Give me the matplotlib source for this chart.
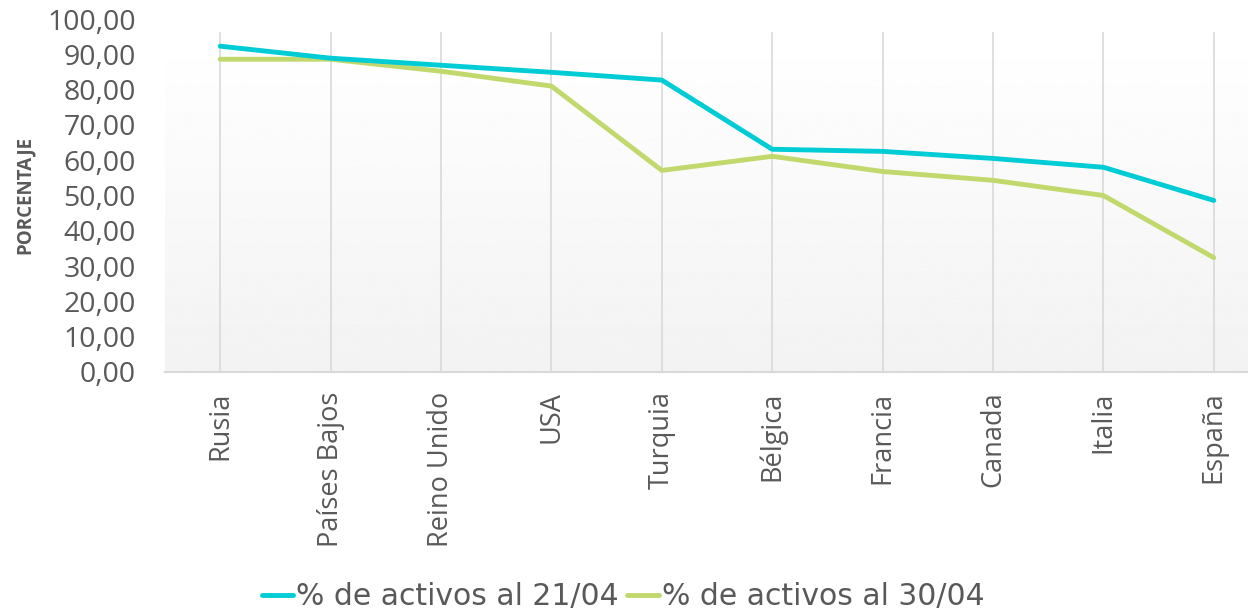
import numpy as np
import matplotlib
matplotlib.use('Agg')
import matplotlib.pyplot as plt

countries = ['Rusia', 'Países Bajos', 'Reino Unido', 'USA', 'Turquia',
             'Bélgica', 'Francia', 'Canada', 'Italia', 'España']
activos_2104 = [92.3, 88.9, 86.9, 84.9, 82.7, 63.1, 62.5, 60.5, 58.0, 48.6]
activos_3004 = [88.6, 88.6, 85.2, 81.0, 57.1, 61.1, 56.8, 54.3, 50.0, 32.4]
labels = ['% de activos al 21/04', '% de activos al 30/04']

plt.rcParams['font.family'] = ['Open Sans', 'DejaVu Sans']
text_color = '#595959'

W, H = 1248, 612
fig = plt.figure(figsize=(W / 100, H / 100), dpi=100)
left, right, top, bottom = 165, 1269, 19, 372
ax = fig.add_axes([left / W, 1 - bottom / H, (right - left) / W, (bottom - top) / H])

x = np.arange(len(countries))
ax.set_xlim(-0.5, len(countries) - 0.5)
ax.set_ylim(0, 100)

# soft vertical gradient like the Excel plot area
grad = np.linspace(0.95, 1.0, 256).reshape(-1, 1)
ax.imshow(grad, extent=[0, 1, 0, 0.96], transform=ax.transAxes, cmap='gray',
          vmin=0, vmax=1, aspect='auto', origin='lower', zorder=0)

for xi in x:
    ax.axvline(xi, ymax=0.96, color='#d9d9d9', lw=1.2, zorder=1)

ax.plot(x, activos_2104, color='#00ccd6', lw=3.5, label=labels[0], zorder=3,
        solid_capstyle='round')
ax.plot(x, activos_3004, color='#c1d96c', lw=3.5, label=labels[1], zorder=2,
        solid_capstyle='round')

for s in ['top', 'right', 'left']:
    ax.spines[s].set_visible(False)
ax.spines['bottom'].set_color('#d9d9d9')
ax.spines['bottom'].set_linewidth(1.5)

ax.set_yticks(np.arange(0, 101, 10))
ax.set_yticklabels([f'{v:.2f}'.replace('.', ',') for v in range(0, 101, 10)])
ax.set_xticks(x)
ax.set_xticklabels(countries, rotation=90)
ax.tick_params(axis='y', length=0, labelsize=20.5, labelcolor=text_color, pad=21)
ax.tick_params(axis='x', length=0, labelsize=19.5, labelcolor=text_color, pad=14)

fig.text(25 / W, 1 - 195 / H, 'PORCENTAJE', rotation=90, ha='center', va='center',
         fontsize=13.5, fontweight='bold', color=text_color)

leg = fig.legend(loc='center', bbox_to_anchor=(623 / W, 1 - 597 / H), ncol=2,
                 frameon=False, prop={'family': 'DejaVu Sans', 'size': 21.5},
                 handlelength=1.05, handletextpad=0.1, columnspacing=0.3,
                 labelcolor=text_color)

fig.savefig('out.png', dpi=100)
